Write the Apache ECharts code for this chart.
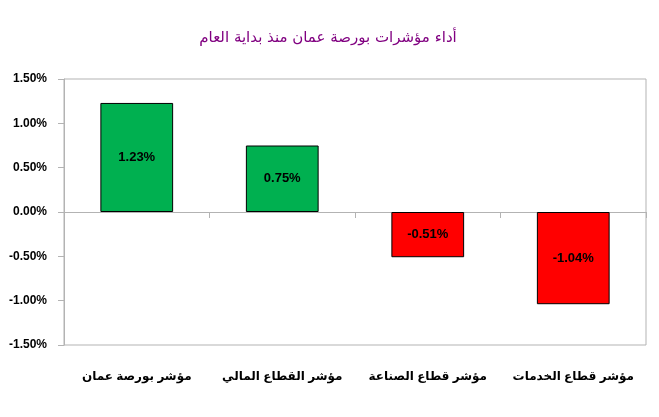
<!DOCTYPE html>
<html>
<head>
<meta charset="utf-8">
<script src="https://cdn.jsdelivr.net/npm/echarts@6/dist/echarts.min.js"></script>
<style>
  html, body { margin: 0; padding: 0; background: #fff; }
  #chartmain { width: 659px; height: 417px; }
</style>
</head>
<body>
<div id="chartmain"></div>
<script>
var titleText = 'أداء مؤشرات بورصة عمان منذ بداية العام';
var cate = ['مؤشر بورصة عمان', 'مؤشر القطاع المالي', 'مؤشر قطاع الصناعة', 'مؤشر قطاع الخدمات'];
var changes = [1.23, 0.75, -0.51, -1.04];
var yTicks = [-1.5, -1.0, -0.5, 0.0, 0.5, 1.0, 1.5];

var font = 'Arial, "Liberation Sans", "DejaVu Sans", sans-serif';

var option = {
  animation: false,
  title: {
    text: titleText,
    left: 323,
    top: 26,
    textAlign: 'center',
    textStyle: { color: '#800080', fontSize: 15, fontWeight: 'normal', fontFamily: 'Tahoma, "DejaVu Sans", sans-serif' }
  },
  grid: {
    left: 64, right: 13, top: 79, bottom: 72,
    show: true, borderColor: '#b3b3b3', borderWidth: 1
  },
  xAxis: [{
    // axe sur le zéro, seulement les graduations
    type: 'category',
    data: cate,
    axisLine: { onZero: true, lineStyle: { color: '#b3b3b3', width: 1 } },
    axisTick: { show: true, interval: 0, length: 6, lineStyle: { color: '#b3b3b3' } },
    axisLabel: { show: false }
  }, {
    type: 'category',
    data: cate,
    position: 'bottom',
    axisLine: { show: false, onZero: false },
    axisTick: { show: false },
    axisLabel: {
      interval: 0, margin: 26,
      color: '#000', fontSize: 12, fontWeight: 'bold', fontFamily: font
    }
  }],
  yAxis: {
    type: 'value',
    min: yTicks[0],
    max: yTicks[yTicks.length - 1],
    interval: 0.5,
    splitLine: { show: false },
    axisLine: { show: true, lineStyle: { color: '#b3b3b3' } },
    axisTick: { show: true, length: 6, lineStyle: { color: '#b3b3b3' } },
    axisLabel: {
      margin: 17,
      color: '#000', fontSize: 12, fontWeight: 'bold', fontFamily: font,
      formatter: function (v) { return v.toFixed(2) + '%'; }
    }
  },
  series: [{
    type: 'bar',
    xAxisIndex: 0,
    data: changes,
    barWidth: '50%',
    itemStyle: {
      borderColor: '#000',
      borderWidth: 1,
      color: function (p) { return p.value >= 0 ? '#00b050' : '#ff0000'; }
    },
    label: {
      show: true,
      position: 'inside',
      color: '#000', fontSize: 13, fontWeight: 'bold', fontFamily: font,
      formatter: function (p) { return p.value.toFixed(2) + '%'; }
    }
  }]
};

var myChart = echarts.init(document.getElementById('chartmain'));
myChart.setOption(option);
</script>
</body>
</html>
